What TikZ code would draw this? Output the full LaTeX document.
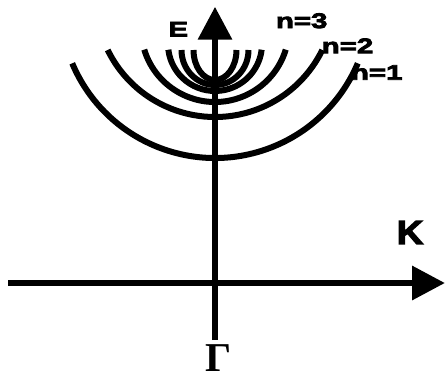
\documentclass[tikz,border=0pt]{standalone}
\usepackage{fontspec}
\usepackage{tikz}
\usetikzlibrary{arrows.meta}
\newfontfamily\lblfont{Liberation Sans}[FakeStretch=1.4,FakeBold=4]
\newfontfamily\kfont{Liberation Sans}[FakeStretch=1.1,FakeBold=4]
\newfontfamily\gammafont{Liberation Serif}

\begin{document}
\begin{tikzpicture}[x=1pt, y=-1pt,
    axis/.style={line width=6.5pt, -{Triangle[length=33pt,width=33pt]}},
    band/.style={line width=6pt},
    lbl/.style={inner sep=0pt, font=\lblfont\bfseries\fontsize{21}{21}\selectfont}]
    \useasboundingbox (0,0) rectangle (445,381);
    \coordinate (o) at (215,283);
    \coordinate (kL) at (8,283);
    \coordinate (kR) at (445,283);
    \coordinate (eB) at (215,340);
    \coordinate (eT) at (215,6.7);
    \draw[axis] (kL) -- (kR);
    \draw[axis] (eB) -- (eT);
    % subbands: centre y, x radius, y radius, start and end angle
    \foreach \cy/\rx/\ry/\sa/\ea in {3/155/155/157.1/22.9, -2.4/119.4/119.4/154/26,
        28/74/74/163/17, 44/47/47/173/7, 50/33.5/35/180/0, 50/21.5/30/180/0}
      \draw[band] (215,\cy) ++(\sa:{\rx} and {\ry}) arc[start angle=\sa, end angle=\ea, x radius=\rx, y radius=\ry];
    \node[lbl] (eLbl) at (178.3,29.2) {E};
    \node[lbl] (n3) at (301.7,20.8) {n=3};
    \node[lbl] (n2) at (347.5,45.8) {n=2};
    \node[lbl] (n1) at (376.7,72.5) {n=1};
    \node[inner sep=0pt, font=\kfont\bfseries\fontsize{33}{33}\selectfont] (kLbl) at (410,232.5) {K};
    \node[inner sep=0pt, font=\gammafont\bfseries\fontsize{41}{41}\selectfont] (gamma) at (219,358.5) {Γ};
\end{tikzpicture}
\end{document}
